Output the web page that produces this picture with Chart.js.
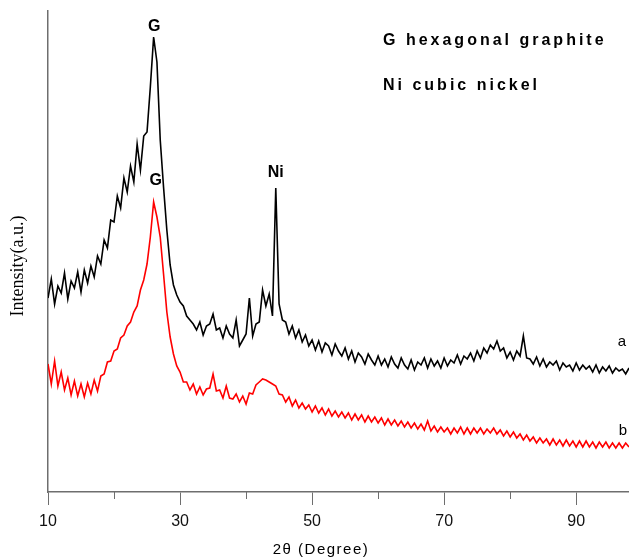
<!DOCTYPE html>
<html>
<head>
<meta charset="utf-8">
<script src="https://cdn.jsdelivr.net/npm/chart.js@4.4.1/dist/chart.umd.min.js"></script>
<style>
  html, body { margin: 0; padding: 0; background: #fff; }
</style>
</head>
<body>
<canvas id="xrd" width="629" height="559"></canvas>
<script>
// 2theta scan grid (degrees)
var twoTheta = [
  10, 10.5, 11, 11.5, 12, 12.5, 13, 13.5, 14, 14.5,
  15, 15.5, 16, 16.5, 17, 17.5, 18, 18.5, 19, 19.5,
  20, 20.5, 21, 21.5, 22, 22.5, 23, 23.5, 24, 24.5,
  25, 25.5, 26, 26.5, 27, 27.5, 28, 28.5, 29, 29.5,
  30, 30.5, 31, 31.5, 32, 32.5, 33, 33.5, 34, 34.5,
  35, 35.5, 36, 36.5, 37, 37.5, 38, 38.5, 39, 39.5,
  40, 40.5, 41, 41.5, 42, 42.5, 43, 43.5, 44, 44.5,
  45, 45.5, 46, 46.5, 47, 47.5, 48, 48.5, 49, 49.5,
  50, 50.5, 51, 51.5, 52, 52.5, 53, 53.5, 54, 54.5,
  55, 55.5, 56, 56.5, 57, 57.5, 58, 58.5, 59, 59.5,
  60, 60.5, 61, 61.5, 62, 62.5, 63, 63.5, 64, 64.5,
  65, 65.5, 66, 66.5, 67, 67.5, 68, 68.5, 69, 69.5,
  70, 70.5, 71, 71.5, 72, 72.5, 73, 73.5, 74, 74.5,
  75, 75.5, 76, 76.5, 77, 77.5, 78, 78.5, 79, 79.5,
  80, 80.5, 81, 81.5, 82, 82.5, 83, 83.5, 84, 84.5,
  85, 85.5, 86, 86.5, 87, 87.5, 88, 88.5, 89, 89.5,
  90, 90.5, 91, 91.5, 92, 92.5, 93, 93.5, 94, 94.5,
  95, 95.5, 96, 96.5, 97, 97.5, 98
];

// sample a (black), arbitrary units
var sampleA = [
  194, 213, 188, 206, 199, 219, 193, 211, 204, 220,
  200, 222, 209, 226, 215, 236, 228, 252, 244, 272,
  270, 296, 284, 314, 300, 326, 310, 348, 322, 356,
  360, 405, 455, 430, 352, 305, 262, 227, 207, 197,
  190, 186, 176, 172, 168, 162, 170, 157, 166, 168,
  178, 162, 164, 154, 166, 158, 154, 172, 146, 152,
  158, 194, 156, 168, 170, 202, 186, 198, 176, 304,
  188, 172, 170, 158, 166, 154, 162, 150, 157, 146,
  152, 142, 151, 140, 149, 146, 137, 148, 141, 136,
  144, 133, 141, 130, 139, 135, 128, 138, 132, 127,
  136, 127, 133, 125, 135, 128, 124, 134, 127, 123,
  132, 122, 130, 127, 134, 124, 133, 126, 131, 124,
  134, 126, 132, 129, 137, 128, 136, 133, 139, 131,
  141, 134, 144, 139, 147, 143, 151, 141, 144, 134,
  140, 132, 141, 136, 156, 134, 133, 128, 135, 126,
  133, 125, 130, 127, 131, 122, 129, 125, 127, 121,
  129, 122, 127, 123, 126, 120, 127, 119, 125, 121,
  126, 119, 124, 121, 123, 118, 124
];

// sample b (red)
var sampleB = [
  128, 108, 131, 106, 120, 102, 114, 97, 111, 96,
  108, 95, 109, 98, 112, 101, 116, 118, 130, 131,
  141, 143, 154, 157, 166, 170, 180, 186, 202, 212,
  228, 255, 290, 275, 255, 218, 180, 155, 138, 126,
  120, 110, 110, 102, 108, 98, 105, 97, 103, 104,
  118, 101, 102, 94, 106, 94, 93, 98, 90, 96,
  88, 99, 98, 107, 110, 113, 112, 110, 108, 106,
  98, 97, 90, 95, 86, 92, 84, 89, 83, 87,
  80, 86, 79, 84, 77, 83, 76, 81, 75, 80,
  74, 79, 72, 78, 72, 77, 70, 76, 70, 75,
  69, 74, 67, 73, 67, 72, 66, 71, 65, 70,
  64, 69, 63, 68, 62, 71, 61, 66, 60, 65,
  60, 64, 58, 64, 59, 65, 58, 64, 58, 64,
  59, 64, 58, 63, 59, 64, 58, 62, 56, 61,
  55, 60, 54, 58, 52, 57, 51, 55, 49, 54,
  49, 53, 47, 53, 47, 52, 46, 52, 46, 51,
  45, 51, 45, 51, 45, 50, 44, 50, 45, 50,
  44, 49, 44, 49, 44, 49, 45
];

var xMin = 10, xMax = 98;
var minorTicks = [20, 40, 60, 80];
var peakLabels = [
  { text: 'G', x: 26.1, y: 455, dy: -6 },
  { text: 'G', x: 26.3, y: 290, dy: -17 },
  { text: 'Ni', x: 44.5, y: 304, dy: -11 }
];
var legendLines = ['G hexagonal graphite', 'Ni cubic nickel'];

var axisGray = '#6e6e6e';

function toPoints(ys) {
  return twoTheta.map(function (a, i) { return { x: a, y: ys[i] }; });
}

var annotate = {
  id: 'annotate',
  afterDraw: function (chart) {
    var ctx = chart.ctx, xs = chart.scales.x, ys = chart.scales.y;
    ctx.save();

    // short minor ticks on the 2theta axis
    ctx.strokeStyle = axisGray;
    ctx.lineWidth = 1;
    minorTicks.forEach(function (v) {
      var px = Math.round(xs.getPixelForValue(v)) + 0.5;
      ctx.beginPath();
      ctx.moveTo(px, xs.top);
      ctx.lineTo(px, xs.top + 7);
      ctx.stroke();
    });

    ctx.fillStyle = '#000';
    ctx.textAlign = 'center';
    ctx.textBaseline = 'alphabetic';

    // peak labels
    ctx.font = 'bold 16px "Liberation Sans", Arial, sans-serif';
    peakLabels.forEach(function (p) {
      ctx.fillText(p.text, xs.getPixelForValue(p.x), ys.getPixelForValue(p.y) + p.dy);
    });

    // phase legend
    ctx.textAlign = 'left';
    ctx.letterSpacing = '3px';
    ctx.fillText(legendLines[0], 383, 45);
    ctx.fillText(legendLines[1], 383, 90);
    ctx.letterSpacing = '0px';

    // curve names
    ctx.font = '15px "Liberation Sans", Arial, sans-serif';
    ctx.textAlign = 'center';
    ctx.fillText('a', 622, 346);
    ctx.fillText('b', 623, 435);

    // x title
    ctx.letterSpacing = '1.5px';
    ctx.fillText('2\u03b8 (Degree)', 321, 554);
    ctx.letterSpacing = '0px';

    // y title
    ctx.translate(18, 266);
    ctx.rotate(-Math.PI / 2);
    ctx.font = '18px "Liberation Serif", "Times New Roman", serif';
    ctx.textBaseline = 'middle';
    ctx.fillText('Intensity(a.u.)', 0, 0);

    ctx.restore();
  }
};

new Chart(document.getElementById('xrd'), {
  type: 'line',
  data: {
    datasets: [
      { label: 'a', data: toPoints(sampleA), borderColor: '#000000', borderWidth: 1.6, pointRadius: 0, tension: 0 },
      { label: 'b', data: toPoints(sampleB), borderColor: '#ff0000', borderWidth: 1.6, pointRadius: 0, tension: 0 }
    ]
  },
  options: {
    responsive: false,
    animation: false,
    devicePixelRatio: 1,
    layout: { padding: { top: 11, right: 0, bottom: 0, left: 0 } },
    plugins: { legend: { display: false }, tooltip: { enabled: false } },
    scales: {
      x: {
        type: 'linear',
        min: xMin,
        max: xMax,
        afterFit: function (s) { s.height = 67; },
        afterBuildTicks: function (s) {
          s.ticks = s.ticks.filter(function (t) { return (t.value - 10) % 10 === 0; });
        },
        border: { display: true, color: axisGray, width: 1.5 },
        grid: {
          drawOnChartArea: false,
          drawTicks: true,
          tickLength: 13,
          lineWidth: 1,
          color: function (c) {
            return c.tick && (c.tick.value - 10) % 20 === 0 ? axisGray : 'rgba(0,0,0,0)';
          }
        },
        ticks: {
          stepSize: 10,
          autoSkip: false,
          maxRotation: 0,
          padding: 7,
          color: '#111',
          font: { family: '"Liberation Sans", Arial, sans-serif', size: 16 },
          callback: function (v) { return (v - 10) % 20 === 0 ? String(v) : ''; }
        }
      },
      y: {
        min: 0,
        max: 481,
        afterFit: function (s) { s.width = 48; },
        border: { display: true, color: axisGray, width: 1.5 },
        grid: { drawOnChartArea: false, drawTicks: false },
        ticks: { display: false }
      }
    }
  },
  plugins: [annotate]
});
</script>
</body>
</html>
